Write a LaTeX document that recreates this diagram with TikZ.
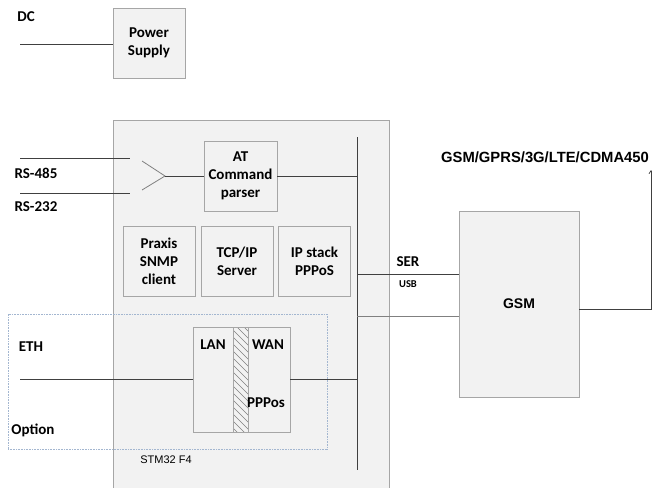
\documentclass[tikz,border=0pt]{standalone}
\usepackage{fontspec}
\setmainfont{Carlito}
\newfontfamily\arialfont{Liberation Sans}
\usetikzlibrary{arrows.meta,positioning,calc}
\definecolor{boxfill}{HTML}{F2F2F2}
\definecolor{boxline}{HTML}{A6A6A6}
\definecolor{wirecol}{HTML}{404040}
\definecolor{optline}{HTML}{A3B6D0}
\tikzset{
  blk/.style={draw=boxline,fill=boxfill,line width=0.8pt,align=center,
    font=\bfseries\fontsize{15}{18}\selectfont,inner sep=0pt},
  wire/.style={draw=wirecol,line width=0.8pt},
  lbl/.style={font=\bfseries\fontsize{15}{18}\selectfont,inner sep=0pt}
}

\begin{document}
\begin{tikzpicture}[x=1pt,y=-1pt]
  \useasboundingbox (0,0) rectangle (652,487);
  % controller board and power
  \node[blk,minimum width=276pt,minimum height=375pt,anchor=north west] (stm) at (113,120) {};
  \node[blk,minimum width=72pt,minimum height=70pt] (psu) at (149,43) {Power\\Supply};
  \node[lbl] (dc) at (26,17) {DC};
  \coordinate (dcin) at (20,44);
  \draw[wire] (dcin) -- (dcin -| psu.west);

  % serial inputs
  \node[blk,minimum width=73pt,minimum height=70pt] (at) at (240.5,176) {AT\\Command\\parser};
  \node[lbl] (rs485) at (36,173) {RS-485};
  \node[lbl] (rs232) at (36,207) {RS-232};
  \coordinate (rsa) at (20,158);
  \coordinate (rsb) at (20,193);
  \draw[wire] (rsa) -- ++(110,0);
  \draw[wire] (rsb) -- ++(110,0);
  \coordinate (mux) at (165,176);
  \draw[wire,draw=gray] (142,161) -- (mux) -- (142,190);
  \draw[wire] (mux) -- (at.west);

  \foreach \name/\cx/\txt in {snmp/159/{Praxis\\SNMP\\client}, tcp/237/{TCP/IP\\Server}, ipst/314.5/{IP stack\\PPPoS}}
    \node[blk,minimum width=72pt,minimum height=70pt] (\name) at (\cx,261) {\txt};

  % ethernet option
  \node[draw=optline,dash pattern=on 1pt off 0.6pt,line width=0.6pt,minimum width=319pt,minimum height=135pt] (opt) at (167.5,381.5) {};
  \node[blk,minimum width=97pt,minimum height=105pt] (router) at (241.5,379.5) {};
  \begin{scope}
    \clip (233,327) rectangle (248,432);
    \foreach \k in {-14,-7,...,112}
      \draw[gray,line width=0.5pt] (230,327+\k) -- ++(22,22);
  \end{scope}
  \draw[draw=boxline,line width=0.6pt] (233,327) rectangle (248,432);
  \node[lbl] (lan) at (213,345) {LAN};
  \node[lbl] (wan) at (268,345) {WAN};
  \node[lbl] (pppos) at (266,403) {PPPos};
  \node[lbl] (eth) at (31,347) {ETH};
  \node[lbl] (option) at (33,430) {Option};
  \node[font=\arialfont\fontsize{11}{13}\selectfont,inner sep=0pt] (chip) at (166,460) {STM32 F4};
  \coordinate (ethin) at (20,379.5);
  \draw[wire] (ethin) -- (router.west);

  % internal bus
  \coordinate (bustop) at (357,137);
  \coordinate (busbot) at (357,470);
  \draw[wire] (bustop) -- (busbot);
  \draw[wire] (at.east) -- (at.east -| bustop);
  \draw[wire] (router.east) -- (router.east -| bustop);

  % modem
  \node[blk,minimum width=120pt,minimum height=186pt,font=\arialfont\bfseries\fontsize{14}{17}\selectfont] (gsm) at (519,304) {GSM};
  \coordinate (ser) at (357,274);
  \coordinate (usb) at (357,316);
  \draw[wire] (ser) -- (ser -| gsm.west);
  \draw[wire,draw=gray,line width=0.6pt] (usb) -- (usb -| gsm.west);
  \node[lbl] (serlbl) at (408,262) {SER};
  \node[lbl,font=\bfseries\fontsize{10.5}{12}\selectfont] (usblbl) at (408,284) {USB};
  \coordinate (ant) at (651,170);
  \draw[wire,-{Straight Barb[length=3pt,width=4pt]}] ($(gsm.east)+(0,5)$) -| (ant);
  \node[font=\arialfont\bfseries\fontsize{14.8}{17}\selectfont,inner sep=0pt] (bands) at (545,157) {GSM/GPRS/3G/LTE/CDMA450};
\end{tikzpicture}
\end{document}
